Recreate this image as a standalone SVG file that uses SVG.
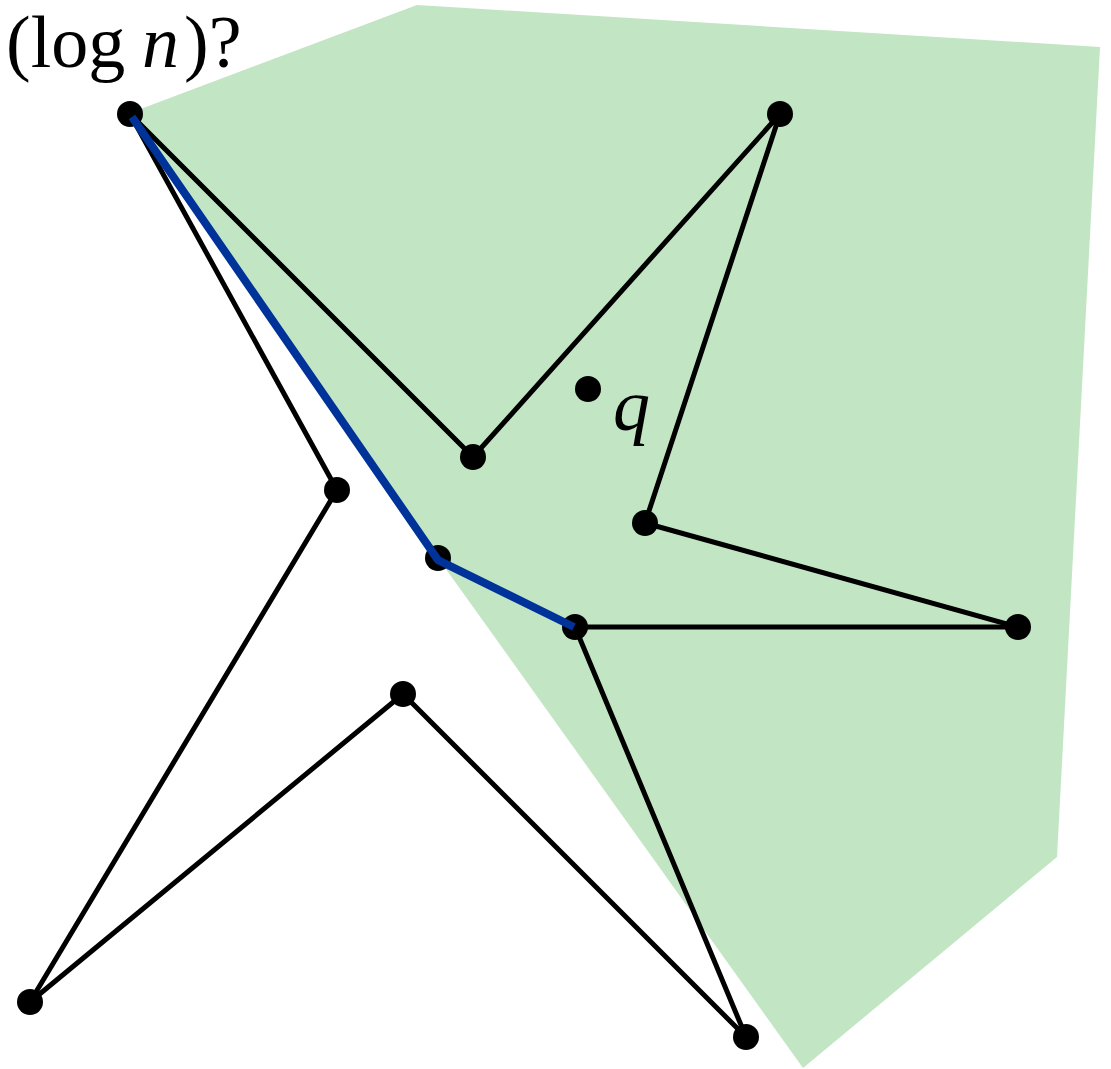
<svg xmlns="http://www.w3.org/2000/svg" width="1111" height="1069" viewBox="0 0 1111 1069">
<style>
.e{stroke:#000;stroke-width:5;fill:none;stroke-linecap:round}
.b{stroke:#003399;stroke-width:8;fill:none;stroke-linejoin:miter}
.v{fill:#000}
.t{font-family:"Liberation Serif",serif;font-size:74px;fill:#000}
.i{font-style:italic}
</style>
<rect width="1111" height="1069" fill="#fff"/>
<polygon id="region" points="130,113 417,5 1100,47 1057,857 803,1068 438,558" fill="#c2e5c3"/>
<g id="connectors">
<line class="e" x1="130" y1="114" x2="473" y2="457"/>
<line class="e" x1="473" y1="457" x2="780" y2="114"/>
<line class="e" x1="780" y1="114" x2="645" y2="523"/>
<line class="e" x1="645" y1="523" x2="1018" y2="627"/>
<line class="e" x1="1018" y1="627" x2="575" y2="627"/>
<line class="e" x1="575" y1="627" x2="746" y2="1037"/>
<line class="e" x1="746" y1="1037" x2="403" y2="694"/>
<line class="e" x1="403" y1="694" x2="30" y2="1002"/>
<line class="e" x1="30" y1="1002" x2="337" y2="490"/>
<line class="e" x1="337" y1="490" x2="130" y2="114"/>
</g>
<g id="nodes">
<circle id="vA" class="v" cx="130" cy="114" r="13"/>
<circle id="vB" class="v" cx="780" cy="114" r="13"/>
<circle id="vC" class="v" cx="473" cy="457" r="13"/>
<circle id="vQ" class="v" cx="588" cy="389" r="13"/>
<circle id="vE" class="v" cx="337" cy="490" r="13"/>
<circle id="vF" class="v" cx="645" cy="523" r="13"/>
<circle id="vG" class="v" cx="438" cy="558" r="13"/>
<circle id="vH" class="v" cx="575" cy="627" r="13"/>
<circle id="vI" class="v" cx="1018" cy="627" r="13"/>
<circle id="vJ" class="v" cx="403" cy="694" r="13"/>
<circle id="vK" class="v" cx="30" cy="1002" r="13"/>
<circle id="vL" class="v" cx="746" cy="1037" r="13"/>
</g>
<g id="path">
<polyline class="b" points="132,117 438,560 574,627"/>
</g>
<g id="labels">
<text class="t" x="6" y="67">(log</text>
<text class="t i" x="142" y="67">n</text>
<text class="t" x="184" y="67">)?</text>
<text class="t i" x="613" y="430">q</text>
</g>
</svg>
